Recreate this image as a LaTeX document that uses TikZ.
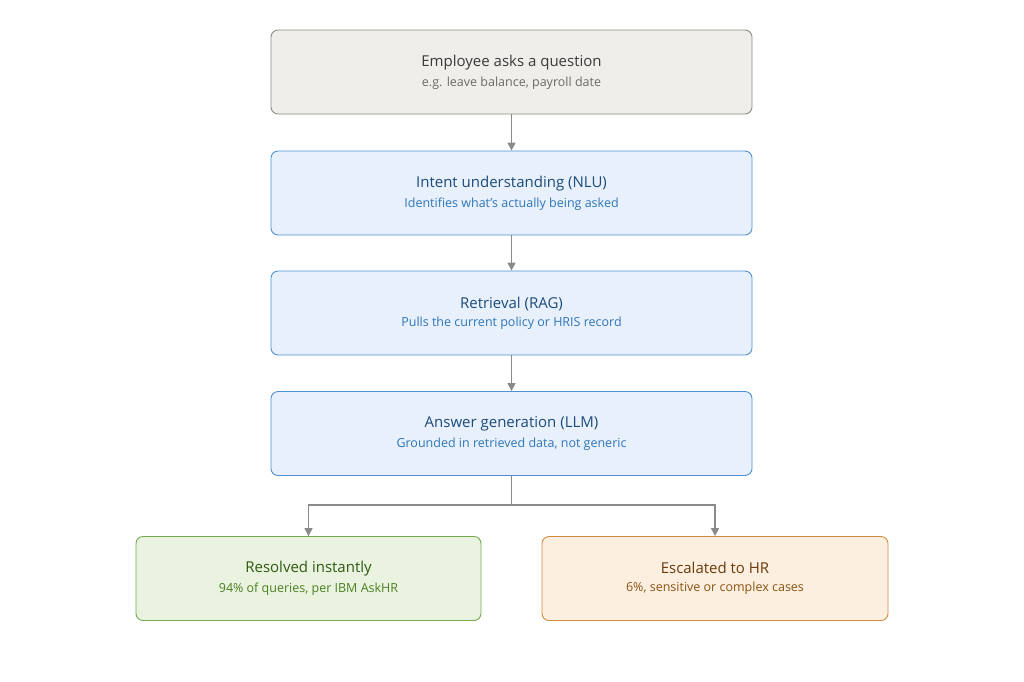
\documentclass[tikz,border=0pt]{standalone}
\usepackage{fontspec}
\setmainfont{Open Sans}
\usetikzlibrary{arrows.meta}
\definecolor{gf}{HTML}{EFEEEA}\definecolor{gd}{HTML}{8C8B86}\definecolor{gt}{HTML}{3A3A38}\definecolor{gs}{HTML}{6A6A66}
\definecolor{bf}{HTML}{E7F0FB}\definecolor{bd}{HTML}{4E90D6}\definecolor{bt}{HTML}{1C4C7C}\definecolor{bs}{HTML}{2F76BA}
\definecolor{ef}{HTML}{EAF3DF}\definecolor{ed}{HTML}{72A850}\definecolor{et}{HTML}{2E5A12}\definecolor{es}{HTML}{4B7F22}
\definecolor{of}{HTML}{FCEFDF}\definecolor{od}{HTML}{D08B40}\definecolor{ot}{HTML}{6A3A0C}\definecolor{os}{HTML}{8A5212}
\definecolor{ar}{HTML}{8A8A8A}
\begin{document}
\begin{tikzpicture}[x=1pt,y=-1pt,
 box/.style={draw,rounded corners=7pt,line width=0.9pt,minimum height=84pt,align=center,inner sep=0pt},
 t/.style={font=\fontsize{15}{18}\selectfont},
 s/.style={font=\fontsize{12.5}{15}\selectfont},
 arr/.style={draw=ar,line width=1.4pt,-{Stealth[length=8pt,width=8pt,inset=0pt]}}]
\useasboundingbox[fill=white] (0,0) rectangle (1024,681);
\node[box,fill=gf,draw=gd,minimum width=481pt] (q) at (511.5,72) {\color{gt}\fontsize{15}{18}\selectfont Employee asks a question\\[6pt]\color{gs}\fontsize{12.5}{15}\selectfont e.g. leave balance, payroll date};
\node[box,fill=bf,draw=bd,minimum width=481pt] (n) at (511.5,193) {\color{bt}\fontsize{15}{18}\selectfont Intent understanding (NLU)\\[6pt]\color{bs}\fontsize{12.5}{15}\selectfont Identifies what's actually being asked};
\node[box,fill=bf,draw=bd,minimum width=481pt] (r) at (511.5,313) {\color{bt}\fontsize{15}{18}\selectfont Retrieval (RAG)\\[6pt]\color{bs}\fontsize{12.5}{15}\selectfont Pulls the current policy or HRIS record};
\node[box,fill=bf,draw=bd,minimum width=481pt] (l) at (511.5,433.5) {\color{bt}\fontsize{15}{18}\selectfont Answer generation (LLM)\\[6pt]\color{bs}\fontsize{12.5}{15}\selectfont Grounded in retrieved data, not generic};
\node[box,fill=ef,draw=ed,minimum width=345pt] (g) at (308.5,578.5) {\color{et}\fontsize{15}{18}\selectfont Resolved instantly\\[6pt]\color{es}\fontsize{12.5}{15}\selectfont 94\% of queries, per IBM AskHR};
\node[box,fill=of,draw=od,minimum width=346pt] (o) at (715,578.5) {\color{ot}\fontsize{15}{18}\selectfont Escalated to HR\\[6pt]\color{os}\fontsize{12.5}{15}\selectfont 6\%, sensitive or complex cases};
\draw[arr] (q) -- (n);
\draw[arr] (n) -- (r);
\draw[arr] (r) -- (l);
\coordinate (j) at (511.5,505);
\draw[draw=ar,line width=1.4pt] (l.south) -- (j);
\draw[arr] (j) -| (g.north);
\draw[arr] (j) -| (o.north);
\end{tikzpicture}
\end{document}
